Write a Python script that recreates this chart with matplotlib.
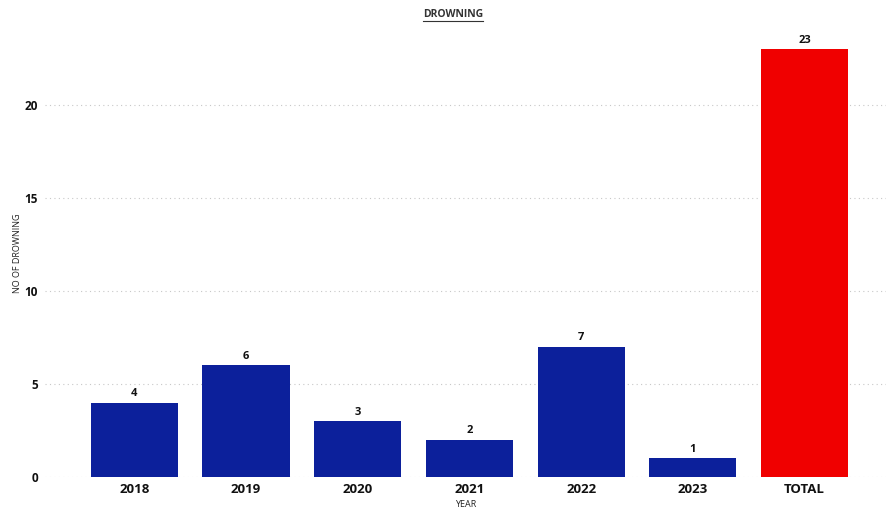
import matplotlib
matplotlib.use("Agg")
import matplotlib.pyplot as plt

plt.rcParams['font.family'] = ['Open Sans', 'DejaVu Sans']

categories = ["2018", "2019", "2020", "2021", "2022", "2023", "TOTAL"]
values = [4, 6, 3, 2, 7, 1, 23]
colors = ["#0c209b"] * 6 + ["#f00000"]
yticks = [0, 5, 10, 15, 20]

fig = plt.figure(figsize=(8.86, 5.08), dpi=100)
ax = fig.add_axes([0.0508, 0.061, 0.9492, 0.88])

x = list(range(len(categories)))
bars = ax.bar(x, values, width=0.78, color=colors, zorder=3)

for xi, v in zip(x, values):
    ax.annotate(str(v), (xi, v), xytext=(0, 2.5), textcoords="offset points",
                ha="center", va="bottom", fontsize=8, fontweight="bold",
                color="#111111")

ax.set_xlim(-0.8, 6.73)
ax.set_ylim(0, 24.03)
ax.set_xticks(x)
ax.set_xticklabels(categories, fontsize=9.5, fontweight="bold", color="#111111")
ax.set_yticks(yticks)
ax.set_yticklabels([str(t) for t in yticks], fontsize=8.5, fontweight="bold", color="#111111")
ax.tick_params(axis="both", length=0)
ax.tick_params(axis="x", pad=4)
ax.tick_params(axis="y", pad=5)

ax.grid(axis="y", linestyle=(0, (1, 3)), color="#c8c8c8", linewidth=0.8, zorder=0)
for s in ax.spines.values():
    s.set_visible(False)

ax.set_ylabel("NO OF DROWNING", fontsize=6.5, color="#222222")
ax.yaxis.set_label_coords(-0.027, 0.5)
ax.set_xlabel("YEAR", fontsize=6.5, color="#222222")
ax.xaxis.set_label_coords(0.5, -0.052)

title = fig.text(0.511, 0.972, "DROWNING", ha="center", va="center",
                 fontsize=7.5, fontweight="bold", color="#333333")
# underline beneath the title
fig.canvas.draw()
bb = title.get_window_extent().transformed(fig.transFigure.inverted())
fig.add_artist(plt.Line2D([bb.x0, bb.x1], [bb.y0 - 0.002, bb.y0 - 0.002],
                          transform=fig.transFigure, color="#333333", linewidth=0.8))

fig.savefig("out.png", dpi=100)
